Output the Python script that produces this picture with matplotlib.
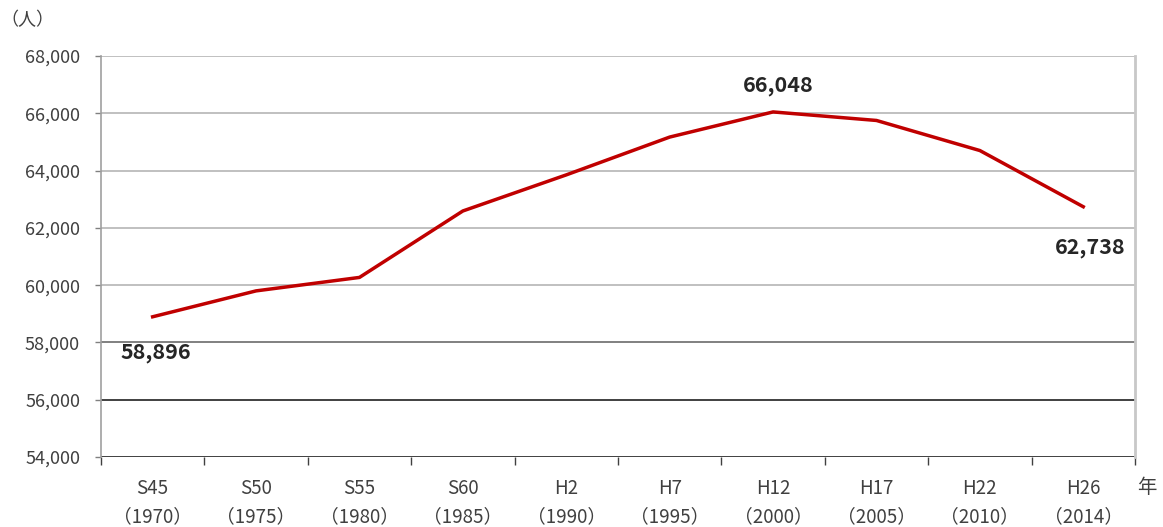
import matplotlib
matplotlib.use('Agg')
import matplotlib.pyplot as plt
import matplotlib.ticker as mticker

plt.rcParams['font.family'] = ['Noto Sans CJK JP', 'DejaVu Sans']

# 人口の推移
categories = ['S45\n（1970）', 'S50\n（1975）', 'S55\n（1980）', 'S60\n（1985）', 'H2\n（1990）',
              'H7\n（1995）', 'H12\n（2000）', 'H17\n（2005）', 'H22\n（2010）', 'H26\n（2014）']
population = [58896, 59800, 60270, 62590, 63850, 65170, 66048, 65750, 64700, 62738]
y_ticks = [54000, 56000, 58000, 60000, 62000, 64000, 66000, 68000]
grid_colors = ['#404040', '#404040', '#808080', '#c0c0c0', '#c0c0c0', '#c0c0c0', '#c0c0c0', '#c0c0c0']

fig = plt.figure(figsize=(11.63, 5.27), dpi=100)
ax = fig.add_axes([0.0868, 0.1328, 0.8891, 0.7609])

x = list(range(len(categories)))
ax.plot(x, population, color='#c00000', linewidth=2.5, solid_joinstyle='round', zorder=5)

# gridlines (darker toward the bottom, as in the original)
for v, c in zip(y_ticks, grid_colors):
    ax.axhline(v, color=c, linewidth=1.4, zorder=1)

ax.set_ylim(54000, 68000)
ax.set_xlim(-0.5, len(categories) - 0.5)

ax.set_yticks(y_ticks)
ax.yaxis.set_major_formatter(mticker.FuncFormatter(lambda v, p: f'{int(v):,}'))
ax.tick_params(axis='y', length=4, width=1, color='#808080', labelcolor='#404040',
               labelsize=13, pad=11)

# category boundaries as major ticks, labels at centers
ax.set_xticks([i - 0.5 for i in range(len(categories) + 1)])
ax.set_xticklabels([])
ax.set_xticks(x, minor=True)
ax.set_xticklabels(categories, minor=True, fontsize=13.5, color='#404040', linespacing=1.45)
ax.tick_params(axis='x', which='major', length=6, width=1, color='#404040')
ax.tick_params(axis='x', which='minor', length=0, pad=15)

for s in ['top', 'bottom']:
    ax.spines[s].set_visible(False)
ax.spines['left'].set_color('#a0a0a0')
ax.spines['left'].set_linewidth(1.2)
ax.spines['right'].set_color('#c8c8c8')
ax.spines['right'].set_linewidth(2)

# data labels
lbl = dict(textcoords='offset points', fontsize=15.5, fontweight='bold', color='#262626',
           ha='center', va='center')
ax.annotate(f'{population[0]:,}', xy=(x[0], population[0]), xytext=(2, -26), **lbl)
imax = population.index(max(population))
ax.annotate(f'{population[imax]:,}', xy=(x[imax], population[imax]), xytext=(4, 19), **lbl)
ax.annotate(f'{population[-1]:,}', xy=(x[-1], population[-1]), xytext=(5, -29), **lbl)

fig.text(0.024, 0.962, '（人）', fontsize=13, color='#404040', ha='center', va='center')
fig.text(0.986, 0.075, '年', fontsize=14, color='#404040', ha='center', va='center')

fig.savefig('out.png', dpi=100)
plt.close(fig)
